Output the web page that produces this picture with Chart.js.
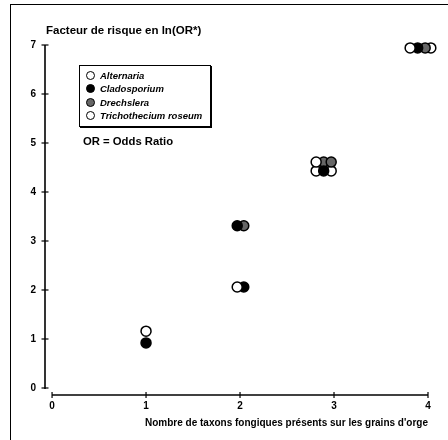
<!DOCTYPE html>
<html>
<head>
<meta charset="utf-8">
<script src="https://cdn.jsdelivr.net/npm/chart.js@4/dist/chart.umd.min.js"></script>
<style>
  html, body { margin: 0; padding: 0; background: #fff; }
  #wrap { position: relative; width: 448px; height: 440px; font-family: "Liberation Sans", Arial, sans-serif; }
  #frame { position: absolute; left: 10px; top: 4px; right: 0; bottom: 0; border-left: 1.5px solid #000; border-top: 1.5px solid #000; }
  #chart { position: absolute; left: 0; top: 0; }
  #ytitle { position: absolute; left: 46px; top: 24px; font-weight: bold; font-size: 11.5px; }
  #legend { position: absolute; left: 79px; top: 65px; width: 130px; height: 60px; border: 1.5px solid #000; box-shadow: 1px 1px 0 #000; background: #fff; }
  .row { position: absolute; left: 6px; height: 13px; line-height: 13px; font: italic bold 9.5px "Liberation Sans", Arial, sans-serif; white-space: nowrap; }
  .dot { display: inline-block; width: 7px; height: 7px; border: 1.3px solid #000; border-radius: 50%; vertical-align: -1px; margin-right: 5px; }
  #note { position: absolute; left: 83px; top: 135px; font-weight: bold; font-size: 11.3px; }
</style>
</head>
<body>
<div id="wrap">
  <div id="frame"></div>
  <canvas id="chart" width="448" height="440"></canvas>
  <div id="ytitle">Facteur de risque en ln(OR*)</div>
  <div id="legend"></div>
  <div id="note">OR = Odds Ratio</div>
</div>
<script>
// Values
const xTicks = [0, 1, 2, 3, 4];
const yTicks = [0, 1, 2, 3, 4, 5, 6, 7];
const seriesNames = ['Alternaria', 'Cladosporium', 'Drechslera', 'Trichothecium roseum'];

const alternariaX = [1, 1.97, 2.81, 3.81];
const alternariaY = [1.16, 2.06, 4.61, 6.94];
const cladosporiumX = [1, 2.04, 1.97, 2.89, 3.89];
const cladosporiumY = [0.92, 2.06, 3.31, 4.43, 6.94];
const drechsleraX = [2.04, 2.89, 2.97, 3.97];
const drechsleraY = [3.31, 4.61, 4.61, 6.94];
const trichoX = [2.81, 2.97, 4.03];
const trichoY = [4.43, 4.43, 6.94];

const xTitle = "Nombre de taxons fongiques présents sur les grains d'orge";

// styles
const fills = ['#fff', '#000', '#666', '#fff'];
const font = '"Liberation Sans", Arial, sans-serif';

function pts(xs, ys) {
    return xs.map((x, i) => ({ x: x, y: ys[i] }));
}
const seriesData = [
    pts(alternariaX, alternariaY),
    pts(cladosporiumX, cladosporiumY),
    pts(drechsleraX, drechsleraY),
    pts(trichoX, trichoY)
];

// legend (html)
const legend = document.getElementById('legend');
seriesNames.forEach((name, i) => {
    const row = document.createElement('div');
    row.className = 'row';
    row.style.top = (4 + i * 13.3) + 'px';
    row.innerHTML = '<span class="dot" style="background:' + fills[i] + '"></span>' + name;
    legend.appendChild(row);
});

// axis lines with small crossing ticks, offset like the original
const axesPlugin = {
    id: 'axesPlugin',
    beforeDatasetsDraw(chart) {
        const { ctx, chartArea, scales: { x, y } } = chart;
        ctx.save();
        ctx.strokeStyle = '#000';
        ctx.lineWidth = 1.6;
        const ax = chartArea.left;
        const ay = chartArea.bottom;
        ctx.beginPath();
        ctx.moveTo(ax, y.getPixelForValue(yTicks[yTicks.length - 1]));
        ctx.lineTo(ax, y.getPixelForValue(0) + 1);
        ctx.stroke();
        ctx.lineWidth = 1.2;
        yTicks.forEach(v => {
            const py = y.getPixelForValue(v);
            ctx.beginPath();
            ctx.moveTo(ax - 3.5, py);
            ctx.lineTo(ax + 3.5, py);
            ctx.stroke();
        });
        ctx.lineWidth = 1.6;
        ctx.beginPath();
        ctx.moveTo(x.getPixelForValue(0), ay);
        ctx.lineTo(x.getPixelForValue(xTicks[xTicks.length - 1]), ay);
        ctx.stroke();
        ctx.lineWidth = 1.2;
        xTicks.forEach(v => {
            const px = x.getPixelForValue(v);
            ctx.beginPath();
            ctx.moveTo(px, ay - 3);
            ctx.lineTo(px, ay + 3);
            ctx.stroke();
        });
        ctx.restore();
    }
};

new Chart(document.getElementById('chart'), {
    type: 'scatter',
    data: {
        datasets: seriesNames.map((name, i) => ({
            label: name,
            data: seriesData[i],
            backgroundColor: fills[i],
            borderColor: '#000',
            borderWidth: 1.5,
            pointRadius: 5,
            pointHoverRadius: 5,
            clip: false
        }))
    },
    options: {
        responsive: false,
        animation: false,
        layout: { padding: { top: 45, right: 20, left: 0, bottom: 11 } },
        plugins: { legend: { display: false }, tooltip: { enabled: false } },
        scales: {
            x: {
                type: 'linear',
                min: -0.075,
                max: 4,
                afterBuildTicks: s => { s.ticks = xTicks.map(v => ({ value: v })); },
                afterFit: s => { s.height = 34; },
                grid: { display: false, tickLength: 2 },
                border: { display: false },
                ticks: { color: '#000', padding: 3, font: { family: font, size: 10, weight: 'bold' } },
                title: {
                    display: true,
                    text: xTitle,
                    align: 'end',
                    color: '#000',
                    padding: { top: 0, bottom: 0 },
                    font: { family: font, size: 10, weight: 'bold' }
                }
            },
            y: {
                type: 'linear',
                min: -0.143,
                max: 7,
                afterBuildTicks: s => { s.ticks = yTicks.map(v => ({ value: v })); },
                afterFit: s => { s.width = 45; },
                grid: { display: false, tickLength: 2 },
                border: { display: false },
                ticks: { color: '#000', padding: 7, font: { family: font, size: 10, weight: 'bold' } }
            }
        }
    },
    plugins: [axesPlugin]
});
</script>
</body>
</html>
